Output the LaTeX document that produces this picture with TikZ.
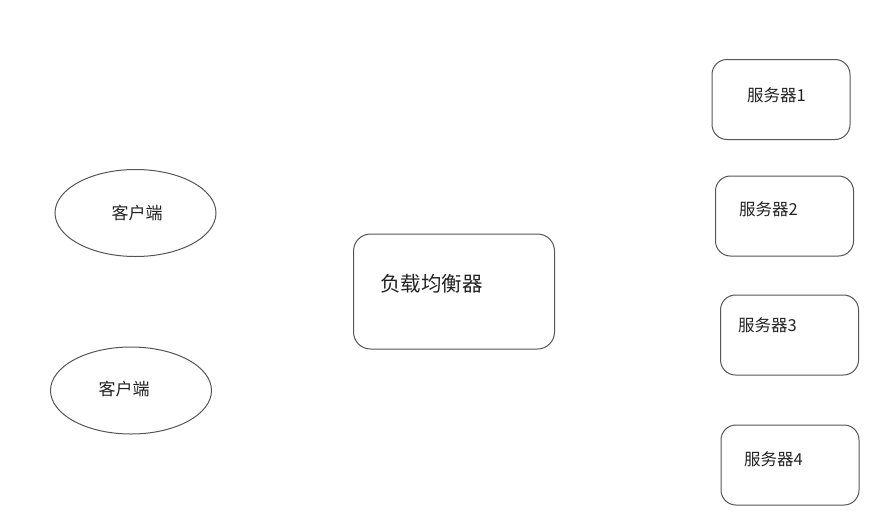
\documentclass[tikz,border=0pt]{standalone}
\usepackage{fontspec}
\setmainfont{Noto Sans CJK SC}
\usetikzlibrary{shapes.geometric}
\definecolor{edge}{HTML}{555555}
\definecolor{ink}{HTML}{222222}
\tikzset{
  client/.style={draw=edge, line width=1pt, ellipse, inner sep=0pt},
  srvbox/.style={draw=edge, line width=1pt, rounded corners=15pt, minimum width=138pt, minimum height=80pt, inner sep=0pt},
  lbbox/.style={draw=edge, line width=1pt, rounded corners=17pt, minimum width=201pt, minimum height=115pt, inner sep=0pt},
  lbl/.style={text=ink, inner sep=0pt, font=\fontsize{16.5pt}{18pt}\selectfont},
  lbllarge/.style={text=ink, inner sep=0pt, font=\fontsize{20.5pt}{22pt}\selectfont},
  lblc/.style={text=ink, inner sep=0pt, font=\fontsize{17pt}{19pt}\selectfont}
}
\begin{document}
\begin{tikzpicture}[x=1pt,y=-1pt]
\useasboundingbox (0,0) rectangle (890,530);
% clients
\node[client, minimum width=161pt, minimum height=87pt] (c1) at (135.5,213) {};
\node[lblc] (c1t) at (137,213) {客户端};
\node[client, minimum width=161pt, minimum height=87pt] (c2) at (131,390.5) {};
\node[lblc] (c2t) at (124,389.5) {客户端};
% load balancer
\node[lbbox] (lb) at (454,291.5) {};
\node[lbllarge] (lbt) at (431.5,283.5) {负载均衡器};
% servers
\node[srvbox] (s1) at (781,99.5) {};
\node[lbl] (s1t) at (776.5,95) {服务器1};
\node[srvbox] (s2) at (784.5,216) {};
\node[lbl] (s2t) at (768.5,209.5) {服务器2};
\node[srvbox] (s3) at (789.5,335) {};
\node[lbl] (s3t) at (767.5,325) {服务器3};
\node[srvbox] (s4) at (790,465) {};
\node[lbl] (s4t) at (773.5,459.5) {服务器4};
\end{tikzpicture}
\end{document}
